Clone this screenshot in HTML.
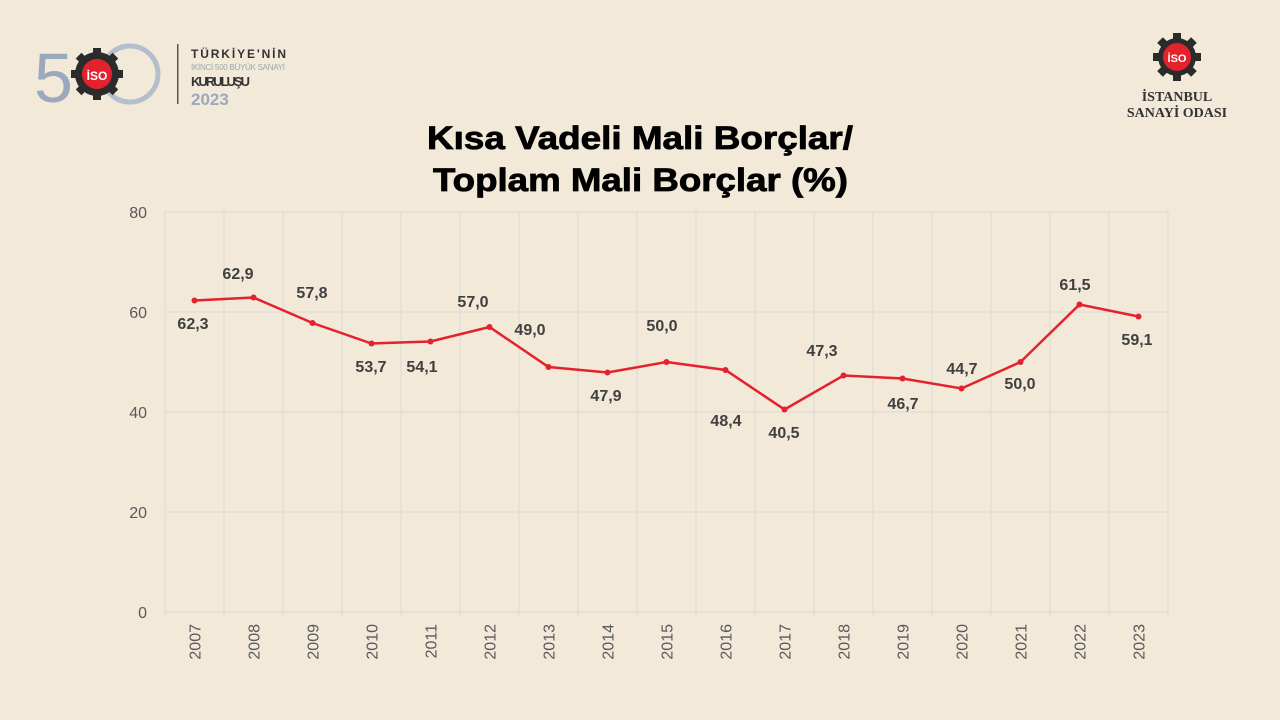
<!DOCTYPE html>
<html><head><meta charset="utf-8"><style>
html,body{margin:0;padding:0;background:#f2e9d9;}
svg{display:block;font-family:"Liberation Sans",sans-serif;}
</style></head><body>
<svg width="1280" height="720" viewBox="0 0 1280 720">
<rect width="1280" height="720" fill="#f2e9d9"/>
<g>
<text x="34" y="102" font-size="70" fill="#9aa9bb">5</text>
<circle cx="130" cy="74" r="28" fill="none" stroke="#b3bfcc" stroke-width="5"/>
<g fill="#2b2b2b">
<circle cx="97" cy="74" r="22"/>
<rect x="93" y="48" width="8" height="52"/>
<rect x="71" y="70" width="52" height="8"/>
<rect x="93" y="48" width="8" height="52" transform="rotate(45 97 74)"/>
<rect x="93" y="48" width="8" height="52" transform="rotate(-45 97 74)"/>
</g>
<circle cx="97" cy="74" r="15" fill="#e3222d"/>
<text x="97" y="80" font-size="12" font-weight="bold" fill="#fff" text-anchor="middle">İSO</text>
<rect x="177" y="44" width="1.5" height="60" fill="#555"/>
<text x="191" y="58" font-size="12" font-weight="bold" fill="#333" textLength="95">TÜRKİYE'NİN</text>
<text x="191" y="70" font-size="8" fill="#9aa" textLength="94">İKİNCİ 500 BÜYÜK SANAYİ</text>
<text x="191" y="86" font-size="13" font-weight="bold" fill="#333" textLength="59">KURULUŞU</text>
<text x="191" y="105" font-size="17" font-weight="bold" fill="#9aa9bb">2023</text>
</g>
<g>
<g fill="#2b2b2b">
<circle cx="1177" cy="57" r="19"/>
<rect x="1173" y="33" width="8" height="48"/>
<rect x="1153" y="53" width="48" height="8"/>
<rect x="1173" y="33" width="8" height="48" transform="rotate(45 1177 57)"/>
<rect x="1173" y="33" width="8" height="48" transform="rotate(-45 1177 57)"/>
</g>
<circle cx="1177" cy="57" r="14" fill="#e3222d"/>
<text x="1177" y="62" font-size="11" font-weight="bold" fill="#fff" text-anchor="middle">İSO</text>
<text x="1177" y="101" font-size="14" font-weight="bold" fill="#333" text-anchor="middle" font-family="Liberation Serif">İSTANBUL</text>
<text x="1177" y="117" font-size="14" font-weight="bold" fill="#333" text-anchor="middle" font-family="Liberation Serif">SANAYİ ODASI</text>
</g>
<text x="427" y="149" font-size="32" font-weight="bold" fill="#000" textLength="426" lengthAdjust="spacingAndGlyphs" stroke="#000" stroke-width="0.8">Kısa Vadeli Mali Borçlar/</text>
<text x="433" y="191" font-size="32" font-weight="bold" fill="#000" textLength="415" lengthAdjust="spacingAndGlyphs" stroke="#000" stroke-width="0.8">Toplam Mali Borçlar (%)</text>
<g stroke="#d9d9d9" stroke-width="1">
<line x1="165" y1="212" x2="1168" y2="212"/>
<line x1="165" y1="312" x2="1168" y2="312"/>
<line x1="165" y1="412" x2="1168" y2="412"/>
<line x1="165" y1="512" x2="1168" y2="512"/>
<line x1="165" y1="612" x2="1168" y2="612"/>
</g>
<g stroke="#d9d9d9" stroke-width="1" id="vg"></g>
<g font-size="16" fill="#595959" text-anchor="end">
<text x="147" y="218">80</text><text x="147" y="318">60</text><text x="147" y="418">40</text><text x="147" y="518">20</text><text x="147" y="618">0</text>
</g>
<g id="years" font-size="16" fill="#595959" text-anchor="end"></g>
<polyline id="line" fill="none" stroke="#e3222d" stroke-width="2.5"/>
<g id="dots" fill="#e3222d"></g>
<g id="labels" font-size="16" font-weight="bold" fill="#404040" text-anchor="middle"></g>
</svg>
<script>
var v=[62.3,62.9,57.8,53.7,54.1,57.0,49.0,47.9,50.0,48.4,40.5,47.3,46.7,44.7,50.0,61.5,59.1];
var ly=[323,273,292,366,366,301,329,395,325,420,432,350,403,368,383,284,339];
var lx=[193,238,312,371,422,473,530,606,662,726,784,822,903,962,1020,1075,1137];
var ns="http://www.w3.org/2000/svg",pts=[];
function el(t,a,p,txt){var e=document.createElementNS(ns,t);for(var k in a)e.setAttribute(k,a[k]);if(txt)e.textContent=txt;document.getElementById(p).appendChild(e);}
for(var i=0;i<=17;i++){el('line',{x1:165+59*i,y1:212,x2:165+59*i,y2:617},'vg');}
for(var i=0;i<17;i++){var x=194.5+59*i,y=612-5*v[i];pts.push(x+','+y);
el('circle',{cx:x,cy:y,r:3},'dots');
el('text',{x:lx[i],y:ly[i]+6},'labels',v[i].toFixed(1).replace('.',','));
el('text',{x:0,y:0,transform:'translate('+(x+6)+',624) rotate(-90)'},'years',String(2007+i));}
document.getElementById('line').setAttribute('points',pts.join(' '));
</script>
</body></html>
